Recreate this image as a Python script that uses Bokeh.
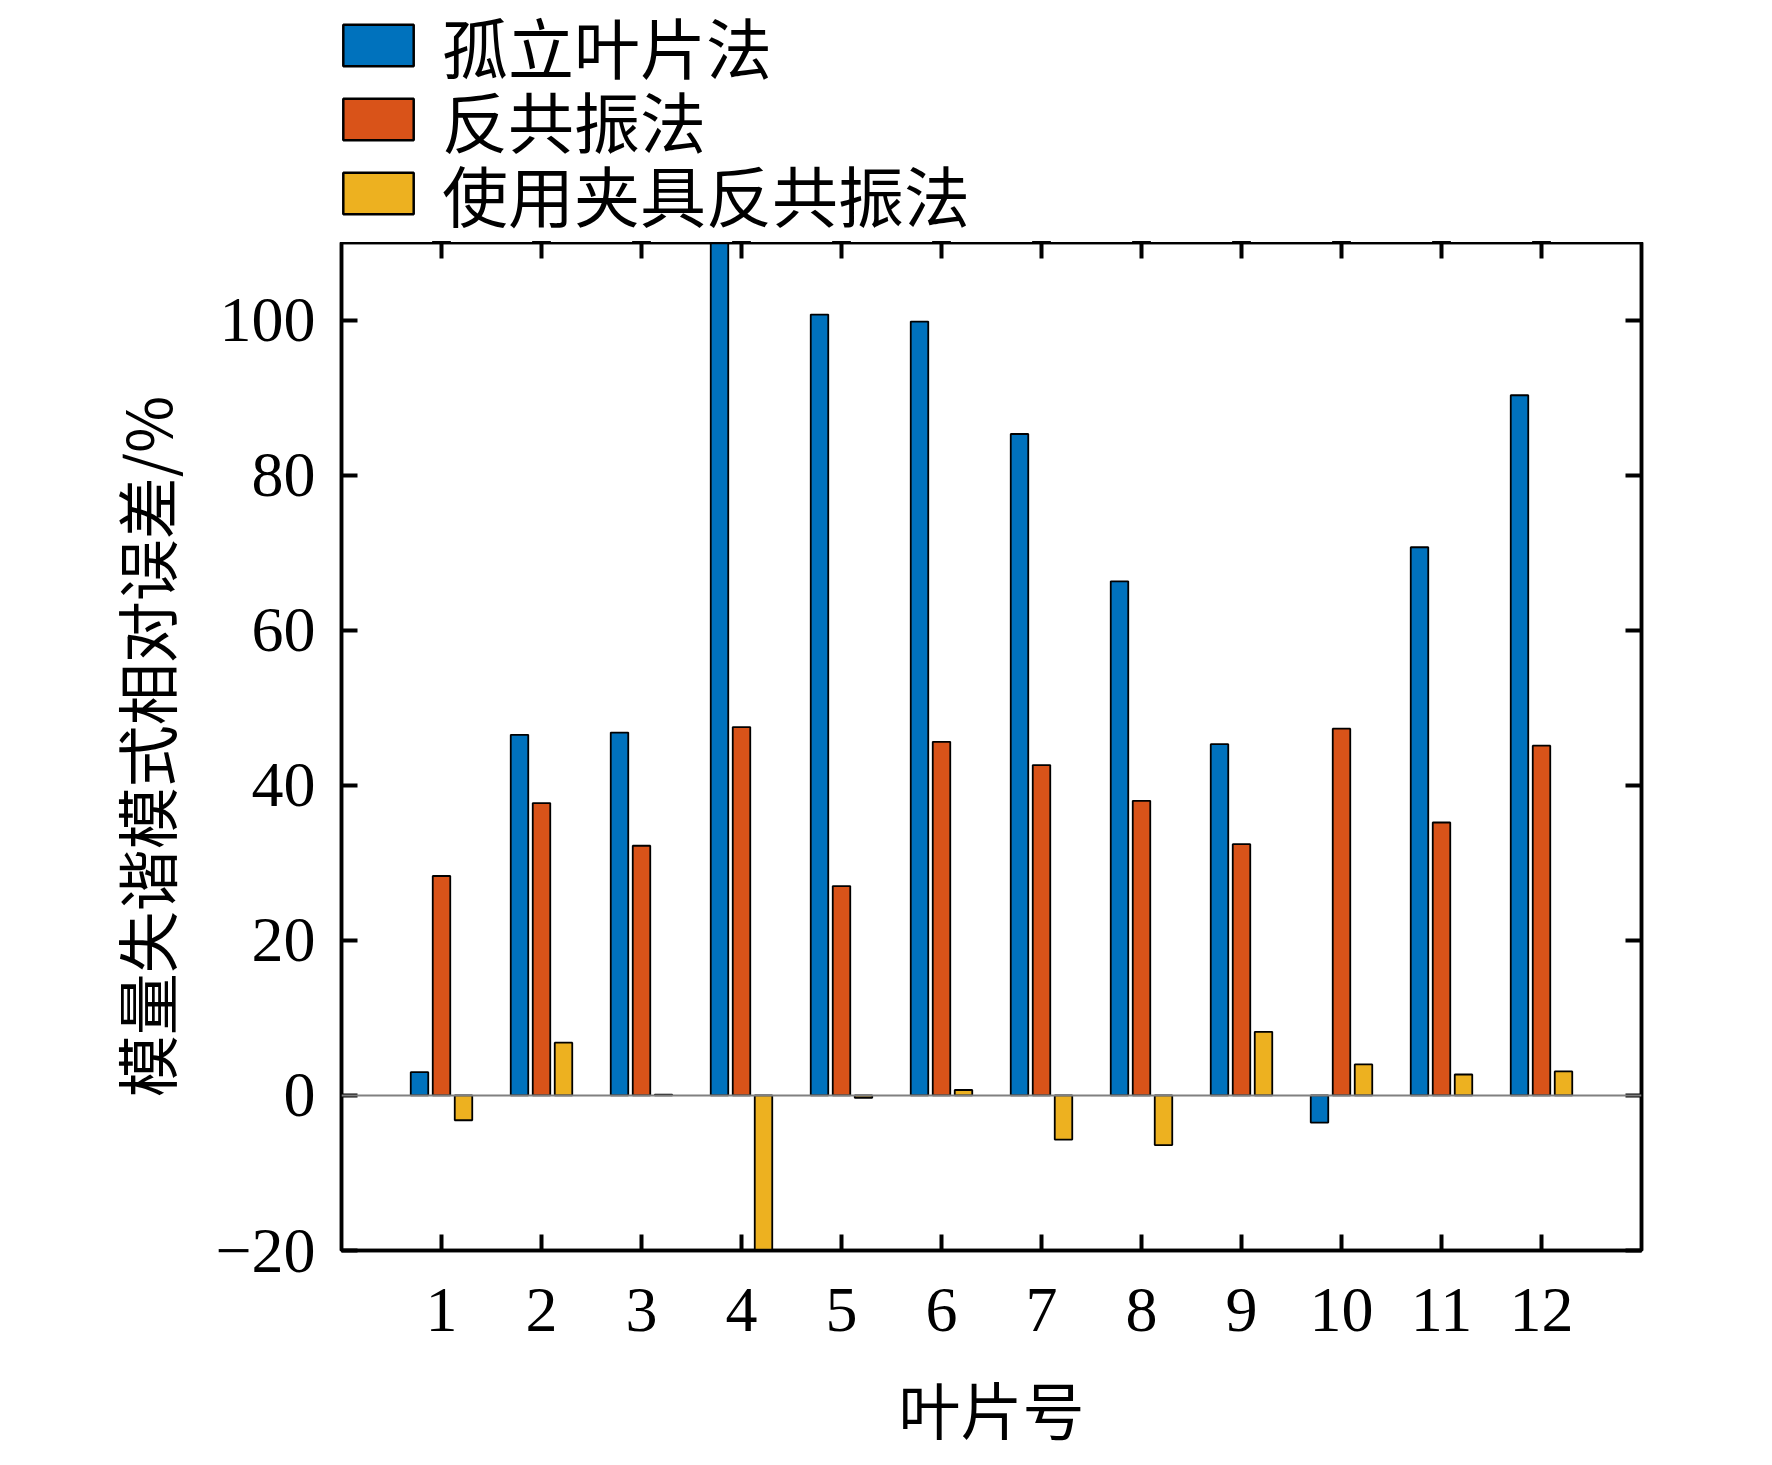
from bokeh.plotting import figure
from bokeh.layouts import column
from bokeh.models import (ColumnDataSource, Legend, LegendItem, LinearAxis,
                          FixedTicker, Span, Range1d)
from bokeh.transform import dodge
from bokeh.embed import file_html
from bokeh.resources import INLINE

# ---------------- data ----------------
blades = list(range(1, 13))
isolated = [3.0, 46.5, 46.8, 120.0, 100.7, 99.8, 85.3, 66.3, 45.3, -3.5, 70.7, 90.3]
antires = [28.3, 37.7, 32.2, 47.5, 27.0, 45.6, 42.6, 38.0, 32.4, 47.3, 35.2, 45.1]
fixture = [-3.2, 6.8, 0.1, -25.0, -0.3, 0.7, -5.7, -6.4, 8.2, 4.0, 2.7, 3.1]
series_names = ["孤立叶片法", "反共振法", "使用夹具反共振法"]
colors = ["#0072BD", "#D95319", "#EDB120"]
y_ticks = [-20, 0, 20, 40, 60, 80, 100]
y_tick_labels = ["\u221220", "0", "20", "40", "60", "80", "100"]
x_tick_labels = [str(b) for b in blades]
x_title = "叶片号"
y_title = "模量失谐模式相对误差/%"

SERIF = "Liberation Serif"
CJK = "Noto Sans CJK SC"

W = 1756
LEG_H = 242

src = ColumnDataSource(dict(blade=blades, iso=isolated, anti=antires, fix=fixture))
fields = ["iso", "anti", "fix"]
offsets = [-0.22, 0.0, 0.22]

p = figure(width=W, height=1455 - LEG_H, x_range=Range1d(0, 13), y_range=Range1d(-20, 110),
           output_backend="svg", toolbar_location=None,
           min_border_left=341, min_border_right=115, min_border_top=0, min_border_bottom=193)
p.xgrid.visible = False
p.ygrid.visible = False
p.background_fill_color = "white"
p.border_fill_color = "white"
p.outline_line_color = "black"
p.outline_line_width = 3.5

for f, off, c in zip(fields, offsets, colors):
    p.vbar(x=dodge("blade", off, range=p.x_range), top=f, bottom=0, width=0.175,
           source=src, fill_color=c, line_color="black", line_width=1.8)

p.add_layout(Span(location=0, dimension="width", line_color="#808080", line_width=2))

# axes
xa = p.xaxis[0]
xa.ticker = FixedTicker(ticks=blades)
xa.major_label_overrides = {b: lab for b, lab in zip(blades, x_tick_labels)}
ya = p.yaxis[0]
ya.ticker = FixedTicker(ticks=y_ticks)
ya.major_label_overrides = {t: lab for t, lab in zip(y_ticks, y_tick_labels)}

for ax in (xa, ya):
    ax.axis_line_color = "black"
    ax.axis_line_width = 3.5
    ax.major_tick_line_color = "black"
    ax.major_tick_line_width = 4
    ax.major_tick_in = 16
    ax.major_tick_out = 0
    ax.minor_tick_line_color = None
    ax.major_label_text_font = SERIF
    ax.major_label_text_font_size = "64px"
    ax.major_label_text_color = "black"
    ax.axis_label_text_font = CJK
    ax.axis_label_text_font_size = "62px"
    ax.axis_label_text_font_style = "normal"
    ax.axis_label_text_color = "black"

xa.axis_label = x_title
xa.major_label_standoff = 38
xa.axis_label_standoff = 29
ya.axis_label = y_title
ya.major_label_standoff = 26
ya.axis_label_standoff = 22

top_ax = LinearAxis(ticker=FixedTicker(ticks=blades))
right_ax = LinearAxis(ticker=FixedTicker(ticks=y_ticks))
for ax in (top_ax, right_ax):
    ax.axis_line_color = "black"
    ax.axis_line_width = 3.5
    ax.major_tick_line_color = "black"
    ax.major_tick_line_width = 4
    ax.major_tick_in = 16
    ax.major_tick_out = 0
    ax.minor_tick_line_color = None
    ax.major_label_text_color = None
    ax.major_label_text_font_size = "1px"
    ax.major_label_standoff = 0
p.add_layout(top_ax, "above")
p.add_layout(right_ax, "right")

# ---------------- legend strip above the plot ----------------
# same data source; the strip's view range (far above every value)
# shows none of the bars, it only hosts the legend entries.
lg = figure(width=W, height=LEG_H, x_range=Range1d(0, 13), y_range=Range1d(500, 501),
            output_backend="svg", toolbar_location=None,
            x_axis_type=None, y_axis_type=None,
            min_border_left=341, min_border_right=115, min_border_top=0, min_border_bottom=0)
lg.xgrid.visible = False
lg.ygrid.visible = False
lg.outline_line_color = None
lg.background_fill_color = "white"
lg.border_fill_color = "white"

proxies = []
for f, c in zip(fields, colors):
    proxies.append(lg.vbar(x="blade", top=f, bottom=0, width=0.175, source=src,
                           fill_color=c, line_color="black", line_width=2.5))

LABEL_PX = 66
ITEM_H = 101          # rendered height of one legend row at this font size
row_centers = [42.5, 116.0, 190.5]
for n, r, cy in zip(series_names, proxies, row_centers):
    lgd = Legend(items=[LegendItem(label=n, renderers=[r])],
                 location=(-7, LEG_H - cy - ITEM_H / 2), orientation="vertical",
                 background_fill_alpha=0, border_line_color=None,
                 padding=0, margin=0, spacing=0,
                 glyph_width=88, glyph_height=52, label_standoff=20,
                 label_text_font=CJK, label_text_font_size=f"{LABEL_PX}px",
                 label_text_color="black")
    lg.add_layout(lgd, "center")

layout = column(lg, p, spacing=0)
open("out.html", "w").write(file_html(layout, INLINE))
